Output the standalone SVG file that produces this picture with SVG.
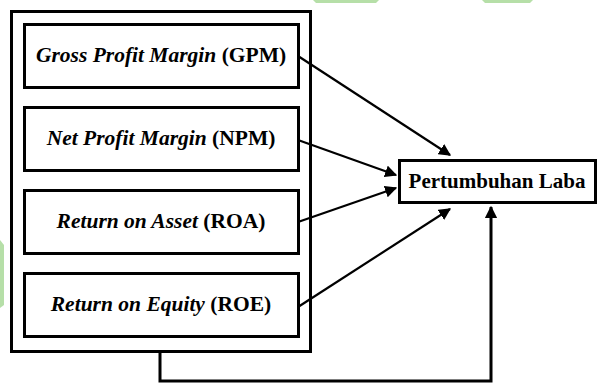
<svg xmlns="http://www.w3.org/2000/svg" width="597" height="384" viewBox="0 0 597 384">
<defs>
<style>
.box{fill:#fff;stroke:#000;stroke-width:3}
.c{stroke:#000;stroke-width:2.2;fill:none}
.wm{fill:#b6dfa8}
</style>
<marker id="ah" viewBox="0 0 10 10" refX="9" refY="5" markerWidth="5.5" markerHeight="5.5" orient="auto" markerUnits="strokeWidth">
<path d="M0,0 L10,5 L0,10 z" fill="#000"/>
</marker>
<marker id="ah2" viewBox="0 0 10 10" refX="9" refY="5" markerWidth="4.2" markerHeight="4.2" orient="auto" markerUnits="strokeWidth">
<path d="M0,0 L10,5 L0,10 z" fill="#000"/>
</marker>
</defs>
<rect width="597" height="384" fill="#fff"/>
<g id="watermark">
<polygon class="wm" points="313,0 379,0 376,3 316,3"/>
<polygon class="wm" points="482,0 533,0 530,3 485,3"/>
<polygon class="wm" points="0,240 4,245 4,305 0,308"/>
</g>
<g id="group">
<rect class="box" x="11.5" y="11.5" width="299" height="340"/>
</g>
<g font-family="Liberation Serif, serif" font-size="21.5" font-weight="bold" text-anchor="middle" fill="#000">
<g id="gpm">
<rect class="box" x="24.5" y="24.5" width="274" height="63"/>
<text x="161" y="62"><tspan font-style="italic">Gross Profit Margin</tspan> (GPM)</text>
</g>
<g id="npm">
<rect class="box" x="24.5" y="107.5" width="274" height="63"/>
<text x="161" y="145"><tspan font-style="italic">Net Profit Margin</tspan> (NPM)</text>
</g>
<g id="roa">
<rect class="box" x="24.5" y="190.5" width="274" height="63"/>
<text x="161" y="228"><tspan font-style="italic">Return on Asset</tspan> (ROA)</text>
</g>
<g id="roe">
<rect class="box" x="24.5" y="273.5" width="274" height="63"/>
<text x="161" y="311"><tspan font-style="italic">Return on Equity</tspan> (ROE)</text>
</g>
<g id="laba">
<rect class="box" x="399.5" y="160.5" width="196" height="42"/>
<text x="497" y="188" font-size="21">Pertumbuhan Laba</text>
</g>
</g>
<g id="connectors">
<line class="c" x1="298" y1="56" x2="450" y2="155" marker-end="url(#ah)"/>
<line class="c" x1="298" y1="140" x2="396" y2="175" marker-end="url(#ah)"/>
<line class="c" x1="298" y1="222" x2="396" y2="188" marker-end="url(#ah)"/>
<line class="c" x1="298" y1="307" x2="450" y2="209" marker-end="url(#ah)"/>
<polyline class="c" style="stroke-width:3" points="160,352 160,381 491,381 491,207" marker-end="url(#ah2)"/>
</g>
</svg>
